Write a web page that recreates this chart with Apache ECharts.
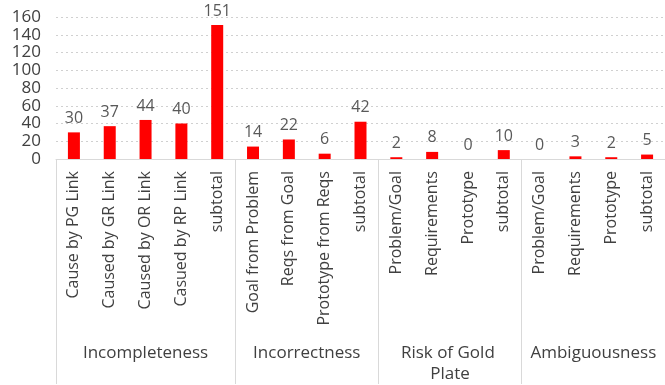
<!DOCTYPE html>
<html>
<head>
<meta charset="utf-8">
<script src="https://cdn.jsdelivr.net/npm/echarts@6/dist/echarts.min.js"></script>
<style>
  html, body { margin: 0; padding: 0; background: #fff; }
  #chart { width: 665px; height: 385px; }
</style>
</head>
<body>
<div id="chart"></div>
<script>
// issue types, one bar each
const categories = [
  'Cause by PG Link', 'Caused by GR Link', 'Caused by OR Link', 'Casued by RP Link', 'subtotal',
  'Goal from Problem', 'Reqs from Goal', 'Prototype from Reqs', 'subtotal',
  'Problem/Goal', 'Requirements', 'Prototype', 'subtotal',
  'Problem/Goal', 'Requirements', 'Prototype', 'subtotal'
];
const counts = [30, 37, 44, 40, 151, 14, 22, 6, 42, 2, 8, 0, 10, 0, 3, 2, 5];

// outer group row
const groups = ['Incompleteness', 'Incorrectness', 'Risk of Gold Plate', 'Ambiguousness'];
const groupSizes = [5, 4, 4, 4];

const yTicks = { min: 0, max: 160, interval: 20 };

const FONT = 'Open Sans';

// the group axis runs on half-category steps so every group centre
// and every group boundary lands on a point of the axis
const halfSlots = [];
const boundaries = [0];
const centres = {};
let pos = 0;
groups.forEach((g, i) => {
  centres[pos + groupSizes[i]] = g;
  pos += groupSizes[i] * 2;
  boundaries.push(pos);
});
for (let i = 0; i <= pos; i++) halfSlots.push(centres[i] || '');

const chart = echarts.init(document.getElementById('chart'));

chart.setOption({
  animation: false,
  grid: { left: 56, right: 0, top: 17, bottom: 225 },
  xAxis: [
    {
      type: 'category',
      data: categories,
      axisLine: { lineStyle: { color: '#d9d9d9', width: 1 } },
      axisTick: { show: false },
      axisLabel: {
        interval: 0,
        rotate: 90,
        margin: 12,
        fontFamily: FONT,
        fontSize: 16,
        color: '#404040'
      }
    },
    {
      type: 'category',
      position: 'bottom',
      offset: 0,
      boundaryGap: false,
      data: halfSlots,
      axisLine: { show: false },
      axisTick: {
        show: true,
        length: 225,
        interval: (i) => boundaries.indexOf(i) >= 0,
        lineStyle: { color: '#d9d9d9', width: 1 }
      },
      axisLabel: {
        interval: (i, v) => v !== '',
        margin: 184,
        width: 130,
        overflow: 'break',
        lineHeight: 21,
        fontFamily: FONT,
        fontSize: 17,
        color: '#404040'
      },
      splitLine: { show: false }
    }
  ],
  yAxis: {
    type: 'value',
    min: yTicks.min,
    max: yTicks.max,
    interval: yTicks.interval,
    axisLine: { show: false },
    axisTick: { show: false },
    axisLabel: {
      margin: 15,
      fontFamily: FONT,
      fontSize: 17,
      color: '#404040'
    },
    splitLine: {
      lineStyle: { color: '#d0d0d0', type: [2, 3], width: 1 }
    }
  },
  series: [
    {
      type: 'bar',
      data: counts,
      barWidth: 12,
      itemStyle: { color: '#ff0000' },
      label: {
        show: true,
        position: 'top',
        distance: 6,
        fontFamily: FONT,
        fontSize: 16,
        color: '#595959'
      }
    }
  ]
});
</script>
</body>
</html>
